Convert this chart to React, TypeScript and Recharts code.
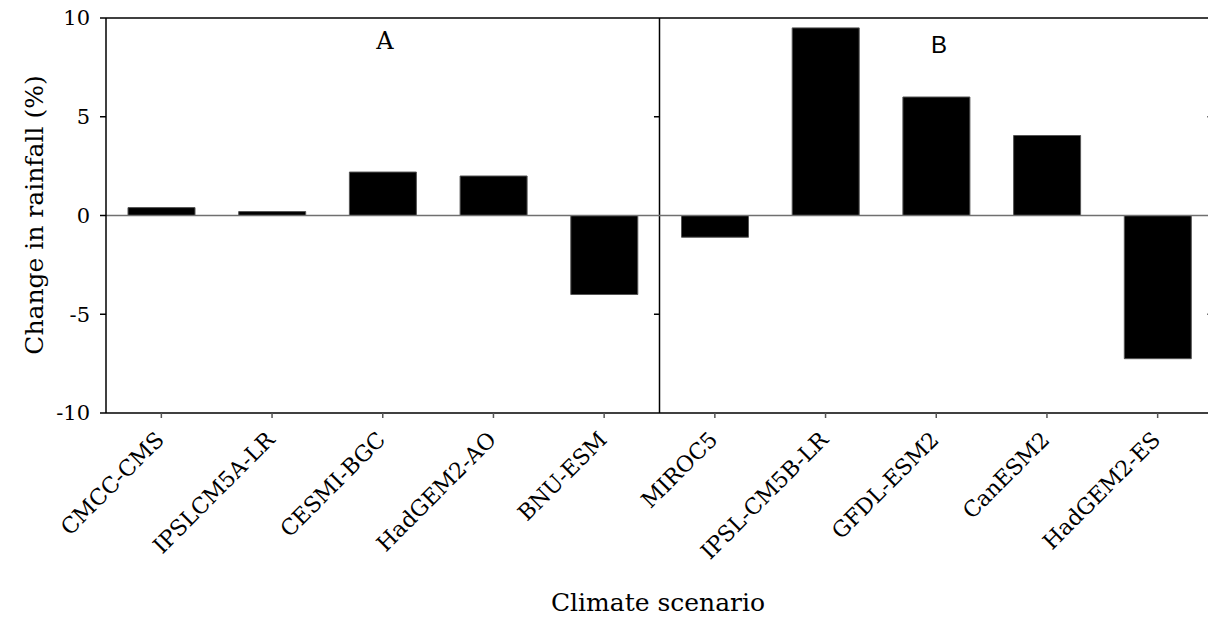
import React from 'react';
import {
  BarChart, Bar, XAxis, YAxis, ReferenceLine,
} from 'recharts';

// climate models, panel A then panel B
const models = [
  'CMCC-CMS', 'IPSLCM5A-LR', 'CESMI-BGC', 'HadGEM2-AO', 'BNU-ESM',
  'MIROC5', 'IPSL-CM5B-LR', 'GFDL-ESM2', 'CanESM2', 'HadGEM2-ES',
];
// change in rainfall (%)
const rainfallChange = [0.4, 0.2, 2.2, 2.0, -4.0, -1.1, 9.5, 6.0, 4.05, -7.25];
const yTicks = [-10, -5, 0, 5, 10];
const panelLabels = ['A', 'B'];

const SERIF = '"DejaVu Serif", serif';
const SANS = '"Liberation Sans", Arial, sans-serif';

const data = models.map((name, i) => ({ name, value: rainfallChange[i], slot: i }));

const CategoryTick = ({ x, y, payload }: { x?: number; y?: number; payload?: { value: string } }) => {
  const px = (x ?? 0) + 4;
  const py = (y ?? 0) + 21;
  return (
    <text
      x={px}
      y={py}
      transform={`rotate(-45, ${px}, ${py})`}
      textAnchor="end"
      fontFamily={SERIF}
      fontSize={22}
      fill="#000"
    >
      {payload?.value}
    </text>
  );
};

export default function App() {
  return (
    <div style={{ position: 'fixed', left: 0, top: 0, width: 1208, height: 619, overflow: 'hidden', background: '#fff' }}>
      <BarChart
        width={1230}
        height={619}
        data={data}
        margin={{ top: 18, right: 17, left: 0, bottom: 0 }}
      >
        <XAxis
          dataKey="name"
          height={206}
          interval={0}
          tickSize={5}
          tick={<CategoryTick />}
          axisLine={{ stroke: '#000', strokeWidth: 1.5 }}
          tickLine={{ stroke: '#555', strokeWidth: 1.5 }}
        />
        {/* plain 0..10 scale across the plot, used for the panel frame */}
        <XAxis xAxisId="pos" dataKey="slot" type="number" domain={[0, 10]} allowDataOverflow hide />
        <YAxis
          width={106}
          domain={[-10, 10]}
          ticks={yTicks}
          tickSize={6}
          tickMargin={10}
          tick={{ fontSize: 21, fontFamily: SERIF, fill: '#000' }}
          axisLine={{ stroke: '#000', strokeWidth: 1.5 }}
          tickLine={{ stroke: '#000', strokeWidth: 1.5 }}
        />
        {/* frame top, panel divider and off-screen right edge */}
        <ReferenceLine y={10} stroke="#000" strokeWidth={1.5} />
        <ReferenceLine x={5} xAxisId="pos" stroke="#000" strokeWidth={1.5} />
        <ReferenceLine x={10} xAxisId="pos" stroke="#000" strokeWidth={1.5} />
        {[5, -5].map((v) => (
          <ReferenceLine
            key={`d${v}`}
            xAxisId="pos"
            segment={[{ x: 4.95, y: v }, { x: 5, y: v }]}
            stroke="#000"
            strokeWidth={1.5}
          />
        ))}
        {[5, -5].map((v) => (
          <ReferenceLine
            key={`r${v}`}
            xAxisId="pos"
            segment={[{ x: 9.95, y: v }, { x: 10, y: v }]}
            stroke="#000"
            strokeWidth={1.5}
          />
        ))}
        <Bar dataKey="value" fill="#000" stroke="#555" strokeWidth={1} barSize={67} isAnimationActive={false} />
        <ReferenceLine y={0} stroke="#707070" strokeWidth={1.5} />
      </BarChart>
      <svg width={1208} height={619} style={{ position: 'absolute', left: 0, top: 0, pointerEvents: 'none' }}>
        <text x={43} y={215} transform="rotate(-90, 43, 215)" textAnchor="middle" fontFamily={SERIF} fontSize={25} fill="#000">
          Change in rainfall (%)
        </text>
        <text x={658} y={611} textAnchor="middle" fontFamily={SERIF} fontSize={25} fill="#000">
          Climate scenario
        </text>
        <text x={385} y={49} textAnchor="middle" fontFamily={SERIF} fontSize={24} fill="#000">
          {panelLabels[0]}
        </text>
        <text x={939} y={53} textAnchor="middle" fontFamily={SANS} fontSize={24} fill="#000">
          {panelLabels[1]}
        </text>
      </svg>
    </div>
  );
}
